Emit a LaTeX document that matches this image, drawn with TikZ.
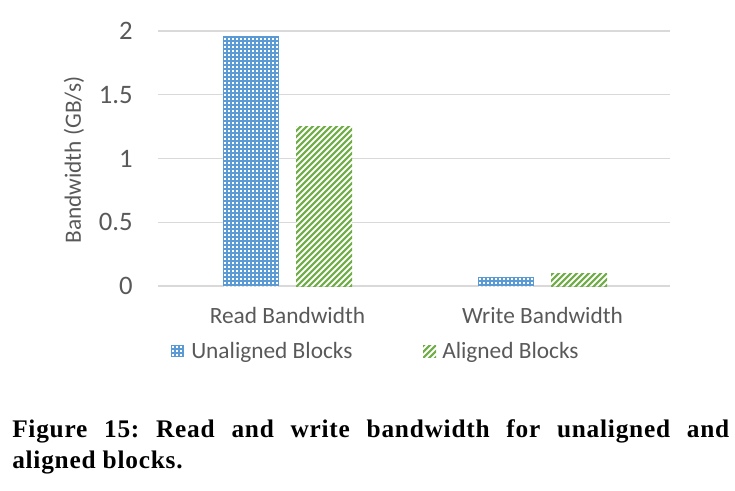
\documentclass[tikz,border=0pt]{standalone}
\usepackage{fontspec}
\setmainfont{Carlito}
\newfontfamily\captfont[LetterSpace=3]{Liberation Serif}
\usetikzlibrary{calc}
\definecolor{unalblue}{HTML}{5B9BD5}
\definecolor{algreen}{HTML}{70AD47}
\definecolor{labelgray}{HTML}{595959}
\definecolor{gridgray}{HTML}{D9D9D9}
\tikzset{
    chart text/.style={text=labelgray, inner sep=0pt, font=\fontsize{17.5}{21}\selectfont},
    tick label/.style={text=labelgray, inner sep=0pt, anchor=east, font=\fontsize{20}{24}\selectfont},
    grid line/.style={gridgray, line width=1.1pt},
}
% blue block with white dots: x0, y0 (top), x1, y1 (bottom)
\newcommand{\dotblock}[4]{%
    \begin{scope}
        \clip (#1,#2) rectangle (#3,#4);
        \fill[unalblue] (#1,#2) rectangle (#3,#4);
        \foreach \yy in {358.5,354.5,...,20} {
            \draw[white, line width=1.5pt, dash pattern=on 1.5pt off 1.5pt, dash phase=-0.75pt] (#1,\yy) -- (#3,\yy); % dot row
        }
    \end{scope}}
% green block with diagonal stripes
\newcommand{\stripeblock}[4]{%
    \begin{scope}
        \clip (#1,#2) rectangle (#3,#4);
        \fill[white] (#1,#2) rectangle (#3,#4);
        \foreach \k in {0,6,...,340} {
            \draw[algreen, line width=1.6pt] (#1-280+\k,#4+5) -- ++(280,-280); % stripe
        }
    \end{scope}}

\begin{document}
\begin{tikzpicture}[x=0.75pt, y=-0.75pt]
    \useasboundingbox (0,0) rectangle (735,490);

    % Grid lines and tick labels
    \def\yzero{286}   % pixel row of value 0
    \def\yunit{127.5} % pixels per GB/s
    \foreach \v [count=\i] in {0,0.5,1,1.5,2} {
        \pgfmathsetmacro\yv{\yzero - \yunit*\v}
        \draw[grid line] (158,\yv) -- (670,\yv); % grid line
        \node[tick label] (tick\i) at (133,\yv) {\v}; % tick label
    }
    \node[chart text, rotate=90] (ytitle) at (74,160) {Bandwidth (GB/s)}; % y-axis title

    % Bars
    \dotblock{223}{\yzero-\yunit*1.96}{279}{\yzero}    % read, unaligned
    \stripeblock{296}{\yzero-\yunit*1.25}{352}{\yzero} % read, aligned
    \dotblock{478}{\yzero-\yunit*0.07}{534}{\yzero}    % write, unaligned
    \stripeblock{551}{\yzero-\yunit*0.1}{607}{\yzero}  % write, aligned

    % Category labels
    \node[chart text, anchor=base] (readcat) at (287.5,323) {Read Bandwidth};
    \node[chart text, anchor=base] (writecat) at (542.5,323) {Write Bandwidth};

    % Legend
    \dotblock{171}{345}{184}{357}
    \node[chart text, anchor=base west] (unallegend) at (191,358) {Unaligned Blocks};
    \stripeblock{423}{345}{436}{357}
    \node[chart text, anchor=base west] (allegend) at (442,358) {Aligned Blocks};

    % Caption
    \node[anchor=base west, inner sep=0pt, text width=537.75pt, align=justify,
          font=\captfont\bfseries\fontsize{19}{23.25}\selectfont\frenchspacing] (caption) at (12,437)
        {Figure 15: Read and write bandwidth for unaligned and\linebreak aligned blocks.};
\end{tikzpicture}
\end{document}
